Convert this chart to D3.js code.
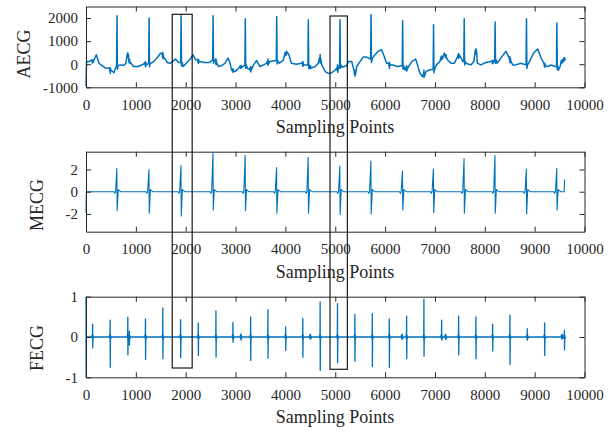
<!DOCTYPE html>
<html>
<head>
<meta charset="utf-8">
<script src="https://cdn.jsdelivr.net/npm/d3@7/dist/d3.min.js"></script>
<style>
    body { margin: 0; background: #ffffff; }
    text { font-family: "Liberation Serif", "Times New Roman", serif; fill: #262626; }
</style>
</head>
<body>
<svg width="613" height="434"></svg>
<script>
// Données (échantillons 0..9600)
const nbEchantillons = 9600;
const xTickLabels = [0, 1000, 2000, 3000, 4000, 5000, 6000, 7000, 8000, 9000, 10000];

// AECG : ligne de base (échantillon, valeur)
const aecgBase = [
    [0, -950], [10, 120], [60, 110], [150, 130], [207, 410], [260, 40], [300, -30], [400, -180],
    [500, -250], [560, -370], [600, -130], [680, -30], [760, -50], [800, 40], [843, 410],
    [880, 40], [950, -100], [1050, -100], [1150, 0], [1300, 40], [1360, 120], [1420, 260],
    [1498, 485], [1560, 310], [1630, 75], [1680, 40], [1740, 120], [1799, 220], [1860, 75],
    [1950, -100], [2010, 40], [2080, 190], [2146, 410], [2200, 190], [2270, 120], [2370, 75],
    [2480, 75], [2600, 120], [2660, -100], [2720, -70], [2790, 44], [2849, 265], [2890, 44],
    [2920, -250], [2990, -320], [3060, -180], [3120, -100], [3240, -180], [3290, -250],
    [3360, -30], [3424, 160], [3490, -100], [3560, -30], [3620, 40], [3690, 120], [3880, 40],
    [3960, 190], [4025, 560], [4070, 410], [4120, 44], [4220, 0], [4320, 44], [4500, -130],
    [4600, -100], [4660, 40], [4694, 265], [4730, -30], [4800, -320], [4860, -400],
    [4930, -370], [5000, -250], [5140, -130], [5220, -70], [5269, 120], [5330, 120],
    [5396, -400], [5430, -100], [5500, 120], [5560, 310], [5630, 310], [5770, 340],
    [5864, 560], [5931, 630], [5970, 410], [6030, 44], [6100, -30], [6160, -30], [6230, -100],
    [6400, -250], [6470, -100], [6540, 120], [6614, 220], [6660, -100], [6700, -400],
    [6754, -545], [6820, -320], [6880, -250], [7030, -30], [7100, 120], [7188, 485],
    [7250, 190], [7320, 44], [7390, 44], [7456, 340], [7500, 370], [7560, 120], [7620, 44],
    [7720, -30], [7780, 120], [7823, 560], [7850, 44], [7920, -30], [8020, 75], [8120, 120],
    [8250, 44], [8320, 265], [8425, 560], [8490, 265], [8560, -30], [8620, -30], [8720, 44],
    [8880, 44], [8980, 485], [9061, 660], [9130, 265], [9200, -30], [9270, -100], [9330, -30],
    [9400, -100], [9480, -250], [9510, -100], [9562, 190], [9600, 220]
];

// Complexes QRS maternels
const mPos = [622, 1266, 1908, 2550, 3196, 3826, 4460, 5095, 5718, 6352, 6972, 7587, 8207, 8836, 9446];
const aecgPic = [2100, 2000, 2100, 2100, 1970, 2070, 1925, 1925, 2140, 1880, 1710, 1970, 1825, 1970, 1780];
const aecgPied = [-70, 40, 75, 190, -30, 160, -30, -30, 220, -70, -220, 120, 190, -30, -100];
const mecgHaut = [2.09, 2.0, 2.36, 3.45, 3.28, 2.18, 3.07, 2.3, 2.75, 1.85, 2.03, 2.99, 3.28, 2.03, 2.09];
const mecgBas = [-1.7, -1.94, -2.18, -1.64, -1.7, -1.94, -1.94, -2.06, -2.0, -1.64, -1.88, -1.94, -1.94, -2.0, -1.64];

// Complexes foetaux
const fPos = [134, 485, 840, 870, 1194, 1542, 1899, 2253, 2608, 2949, 3110, 3304, 3651, 4006, 4350,
    4500, 4698, 5046, 5395, 5744, 6085, 6340, 6433, 6780, 7135, 7215, 7476, 7823, 8158, 8505,
    8853, 9201, 9548, 9598];
const fecgHaut = [0.32, 0.42, 0.49, 0.14, 0.45, 0.72, 0.43, 0.35, 0.65, 0.36, 0.08, 0.5, 0.68, 0.25, 0.46,
    0.07, 0.87, 0.83, 0.56, 0.58, 0.45, 0.07, 0.52, 0.94, 0.42, 0.07, 0.52, 0.5, 0.32, 0.54,
    0.21, 0.35, 0.07, 0.17];
const fecgBas = [-0.27, -0.75, -0.44, -0.2, -0.56, -0.54, -0.51, -0.46, -0.5, -0.13, -0.08, -0.58, -0.53, -0.33, -0.5,
    -0.05, -0.83, -0.64, -0.6, -0.73, -0.75, -0.06, -0.54, -0.48, -0.08, -0.06, -0.44, -0.54, -0.35, -0.68,
    -0.08, -0.46, -0.04, -0.32];

// Rectangles de repérage (en échantillons)
const zones = [[1730, 2130, 14.3, 368], [4895, 5243, 16, 369.3]];

// Construction des tracés
const baseAECG = d3.scaleLinear().domain(aecgBase.map(d => d[0])).range(aecgBase.map(d => d[1]));
let aecg = aecgBase.slice();
mPos.forEach((p, i) => {
    aecg.push([p - 8, aecgPied[i]], [p, aecgPic[i]], [p + 8, aecgPied[i] - 150], [p + 20, aecgPied[i]]);
});
// contribution foetale visible dans le signal abdominal
fPos.forEach((p, i) => {
    if (mPos.some(m => Math.abs(m - p) < 40)) return;
    const b = baseAECG(p);
    aecg.push([p - 12, b + 60], [p - 6, b - 70], [p - 1, b + 220 * fecgHaut[i]], [p + 2, b + 220 * fecgBas[i]], [p + 8, b + 50], [p + 14, b - 40]);
});
aecg.sort((a, b) => a[0] - b[0]);

let mecg = [[0, -1.9], [6, 0]];
mPos.forEach((p, i) => {
    mecg.push([p - 60, 0], [p - 45, -0.15], [p - 30, 0], [p - 3, mecgHaut[i]], [p + 3, mecgBas[i]],
        [p + 25, 0.2], [p + 45, 0.1], [p + 80, 0]);
});
mecg.push([9592, 0], [9600, 1.1]);
mecg.sort((a, b) => a[0] - b[0]);

let fecg = [[0, 1], [2, -1], [8, 0]];
fPos.forEach((p, i) => {
    fecg.push([p - 20, 0], [p - 10, 0.05], [p - 5, -0.05], [p - 1, fecgHaut[i]], [p + 1, fecgBas[i]],
        [p + 6, 0.05], [p + 12, -0.04], [p + 22, 0]);
});
fecg.sort((a, b) => a[0] - b[0]);

// Mise en page des trois graphiques
const panneaux = [
    { nom: "AECG", data: aecg, domaine: [-1000, 2500], ticks: [-1000, 0, 1000, 2000], haut: 6.5, bas: 87.3, labelX: 30, labelY: 54, largeur: 1.5 },
    { nom: "MECG", data: mecg, domaine: [-3.6, 3.6], ticks: [-2, 0, 2], haut: 151.7, bas: 231.7, labelX: 42.5, labelY: 205, largeur: 1.1 },
    { nom: "FECG", data: fecg, domaine: [-1, 1], ticks: [-1, 0, 1], haut: 296.7, bas: 377.3, labelX: 42.5, labelY: 348, largeur: 1.3 }
];

let svg = d3.select("svg");
svg.append("rect").attr("width", 613).attr("height", 434).attr("fill", "#ffffff");

const xScale = d3.scaleLinear().domain([0, 10000]).range([86, 584.5]);

panneaux.forEach(pn => {
    const yScale = d3.scaleLinear().domain(pn.domaine).range([pn.bas, pn.haut]);
    const g = svg.append("g");

    // Courbe
    g.append("path")
        .datum(pn.data)
        .attr("fill", "none")
        .attr("stroke", "#0072BD")
        .attr("stroke-width", pn.largeur)
        .attr("stroke-linejoin", "round")
        .attr("d", d3.line().x(d => xScale(d[0])).y(d => yScale(d[1])));

    // Axes (graduations vers l'intérieur, boîte fermée)
    const style = a => a.call(s => s.select(".domain").attr("stroke", "#262626"))
        .call(s => s.selectAll(".tick line").attr("stroke", "#262626"))
        .call(s => s.selectAll(".tick text").style("font-size", "15px").attr("fill", "#262626"));

    g.append("g").attr("transform", `translate(0,${pn.bas})`)
        .call(d3.axisBottom(xScale).tickValues(xTickLabels).tickFormat(d3.format("d")).tickSizeInner(-5).tickSizeOuter(0).tickPadding(12))
        .call(style);
    g.append("g").attr("transform", `translate(0,${pn.haut})`)
        .call(d3.axisTop(xScale).tickValues(xTickLabels).tickFormat("").tickSizeInner(-5).tickSizeOuter(0))
        .call(style);
    g.append("g").attr("transform", "translate(86,0)")
        .call(d3.axisLeft(yScale).tickValues(pn.ticks).tickFormat(d => String(d)).tickSizeInner(-5).tickSizeOuter(0).tickPadding(8))
        .call(style);
    g.append("g").attr("transform", "translate(584.5,0)")
        .call(d3.axisRight(yScale).tickValues(pn.ticks).tickFormat("").tickSizeInner(-5).tickSizeOuter(0))
        .call(style);

    // Titres des axes
    g.append("text")
        .text("Sampling Points")
        .attr("x", 335)
        .attr("y", pn.bas + 46)
        .attr("text-anchor", "middle")
        .style("font-size", "18px");
    g.append("text")
        .text(pn.nom)
        .attr("transform", `translate(${pn.labelX},${pn.labelY}) rotate(-90)`)
        .attr("text-anchor", "middle")
        .style("font-size", "18px");
});

// Rectangles noirs reliant les trois graphiques
svg.selectAll(".zone")
    .data(zones)
    .enter()
    .append("rect")
    .attr("class", "zone")
    .attr("x", d => xScale(d[0]))
    .attr("y", d => d[2])
    .attr("width", d => xScale(d[1]) - xScale(d[0]))
    .attr("height", d => d[3] - d[2])
    .attr("fill", "none")
    .attr("stroke", "#1a1a1a")
    .attr("stroke-width", 1.2);
</script>
</body>
</html>
